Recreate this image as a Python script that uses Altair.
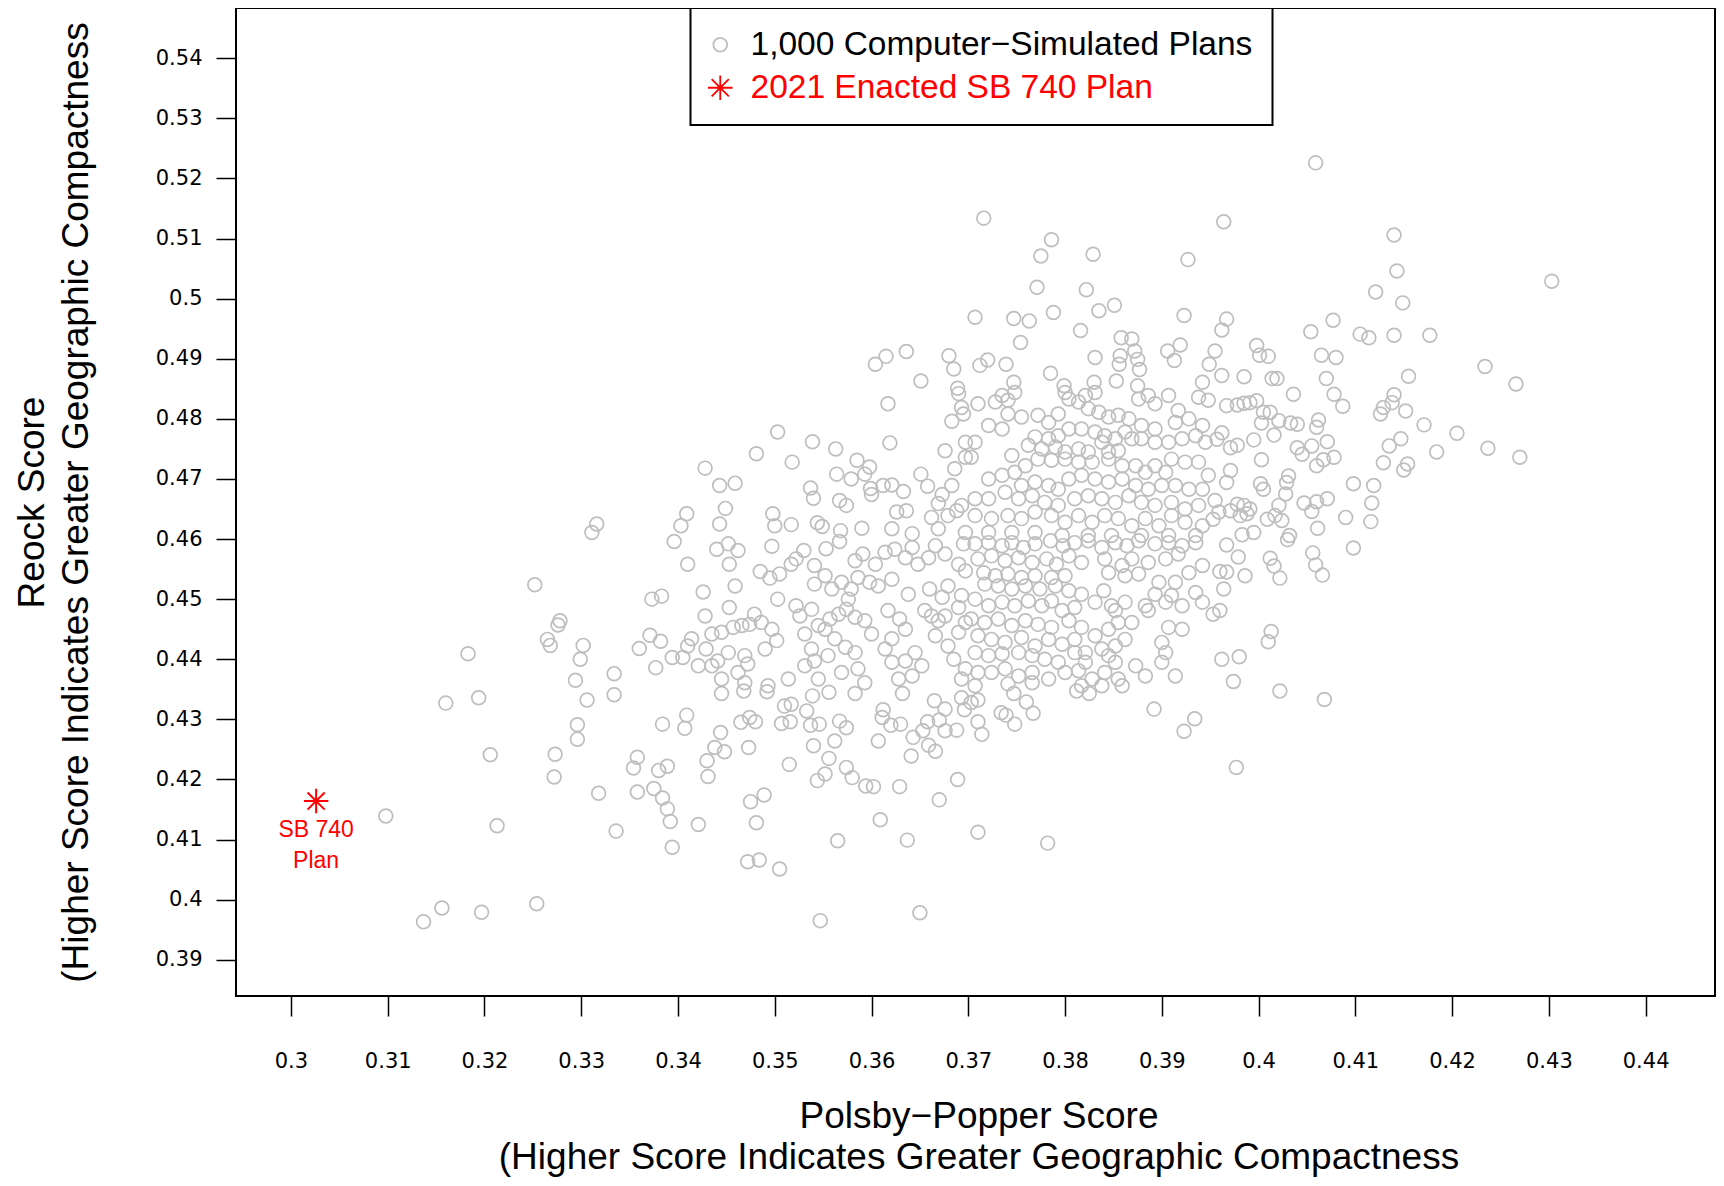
import altair as alt
import pandas as pd

# ---- data (Polsby-Popper, Reock) ----
SERIES = ["1,000 Computer\u2212Simulated Plans", "2021 Enacted SB 740 Plan"]

sims_left = [
    (0.3316,0.4625),(0.3311,0.4611),(0.3396,0.4596),(0.3252,0.4524),(0.3373,0.4500),(0.3383,0.4505),
    (0.3278,0.4464),(0.3276,0.4457),(0.3265,0.4433),(0.3268,0.4423),(0.3183,0.4409),(0.3302,0.4423),
    (0.3299,0.4400),(0.3371,0.4440),(0.3382,0.4430),(0.3360,0.4418),(0.3394,0.4403),(0.3377,0.4386),
    (0.3294,0.4365),(0.3334,0.4376),(0.3334,0.4341),(0.3306,0.4332),(0.3160,0.4327),(0.3194,0.4336),
    (0.3384,0.4292),(0.3296,0.4291),(0.3296,0.4267),(0.3206,0.4241),(0.3273,0.4242),(0.3272,0.4204),
    (0.3358,0.4237),(0.3354,0.4219),(0.3380,0.4215),(0.3389,0.4222),(0.3375,0.4185),(0.3358,0.4179),
    (0.3318,0.4177),(0.3384,0.4169),(0.3389,0.4151),(0.3392,0.4130),(0.3394,0.4087),(0.3336,0.4114),
    (0.3213,0.4123),(0.3098,0.4139),(0.3254,0.3993),(0.3156,0.3986),(0.3137,0.3963),(0.3197,0.3979),
]

sims_low_mid = [
    (0.3409,0.4307),(0.3407,0.4285),(0.3444,0.4278),(0.3465,0.4295),(0.3474,0.4303),(0.3480,0.4296),
    (0.3473,0.4253),(0.3448,0.4246),(0.3438,0.4253),(0.3430,0.4231),(0.3431,0.4205),(0.3510,0.4322),
    (0.3517,0.4325),(0.3507,0.4293),(0.3516,0.4296),(0.3533,0.4314),(0.3537,0.4290),(0.3546,0.4292),
    (0.3539,0.4339),(0.3556,0.4345),(0.3567,0.4297),(0.3574,0.4286),(0.3562,0.4264),(0.3540,0.4256),
    (0.3556,0.4235),(0.3515,0.4225),(0.3552,0.4209),(0.3544,0.4198),(0.3574,0.4220),(0.3580,0.4203),
    (0.3594,0.4189),(0.3602,0.4188),(0.3612,0.4316),(0.3611,0.4303),(0.3620,0.4290),(0.3630,0.4292),
    (0.3607,0.4264),(0.3641,0.4239),(0.3643,0.4270),(0.3653,0.4281),(0.3658,0.4296),(0.3665,0.4331),
    (0.3676,0.4317),(0.3670,0.4299),(0.3676,0.4281),(0.3688,0.4282),(0.3659,0.4257),(0.3666,0.4247),
    (0.3693,0.4336),(0.3696,0.4316),(0.3629,0.4188),(0.3689,0.4200),(0.3670,0.4166),(0.3475,0.4163),
    (0.3489,0.4174),(0.3481,0.4128),(0.3421,0.4125),(0.3472,0.4063),(0.3484,0.4066),(0.3505,0.4051),
    (0.3565,0.4098),(0.3609,0.4133),(0.3637,0.4099),(0.3547,0.3965),(0.3650,0.3978),(0.3583,0.4343),
    (0.3632,0.4343),(0.3445,0.4343),(0.3468,0.4347),(0.3492,0.4346),
]

sims_low_right = [
    (0.3710,0.4332),(0.3703,0.4328),(0.3710,0.4296),(0.3714,0.4275),(0.3734,0.4311),(0.3739,0.4307),
    (0.3748,0.4292),(0.3760,0.4329),(0.3767,0.4310),(0.3747,0.4343),(0.3825,0.4343),(0.3812,0.4347),
    (0.3892,0.4317),(0.3934,0.4301),(0.3923,0.4280),(0.3977,0.4220),(0.4022,0.4347),(0.4068,0.4333),
    (0.3710,0.4112),(0.3782,0.4094),
]

sims_mid_a = [
    (0.3440,0.4583),(0.3462,0.4581),(0.3452,0.4592),(0.3497,0.4588),(0.3410,0.4558),(0.3453,0.4558),
    (0.3485,0.4546),(0.3495,0.4535),(0.3505,0.4542),(0.3517,0.4558),(0.3522,0.4567),(0.3530,0.4581),
    (0.3541,0.4556),(0.3553,0.4584),(0.3567,0.4596),(0.3583,0.4564),(0.3591,0.4575),(0.3604,0.4558),
    (0.3614,0.4578),(0.3624,0.4583),(0.3635,0.4569),(0.3642,0.4586),(0.3648,0.4558),(0.3659,0.4569),
    (0.3666,0.4589),(0.3676,0.4575),(0.3695,0.4592),(0.3690,0.4558),(0.3697,0.4547),
    (0.3426,0.4512),(0.3459,0.4522),(0.3503,0.4500),(0.3453,0.4486),(0.3428,0.4472),(0.3479,0.4475),
    (0.3522,0.4489),(0.3526,0.4472),(0.3538,0.4483),(0.3541,0.4525),(0.3552,0.4539),(0.3559,0.4517),
    (0.3569,0.4528),(0.3579,0.4517),(0.3576,0.4500),(0.3586,0.4536),(0.3598,0.4528),(0.3607,0.4522),
    (0.3621,0.4533),(0.3638,0.4508),(0.3660,0.4517),(0.3673,0.4503),(0.3679,0.4522),(0.3693,0.4506),
    (0.3690,0.4486),
    (0.3414,0.4434),(0.3410,0.4422),(0.3429,0.4417),(0.3435,0.4442),(0.3445,0.4445),(0.3457,0.4453),
    (0.3466,0.4456),(0.3474,0.4458),(0.3486,0.4461),(0.3497,0.4450),(0.3502,0.4431),(0.3490,0.4417),
    (0.3469,0.4406),(0.3452,0.4411),(0.3441,0.4397),(0.3421,0.4389),(0.3405,0.4403),
    (0.3531,0.4442),(0.3538,0.4417),(0.3545,0.4456),(0.3552,0.4450),(0.3557,0.4467),(0.3566,0.4475),
    (0.3574,0.4483),(0.3583,0.4470),(0.3593,0.4464),(0.3600,0.4442),(0.3562,0.4434),(0.3573,0.4420),
    (0.3583,0.4411),(0.3555,0.4406),(0.3541,0.4397),(0.3531,0.4389),(0.3545,0.4367),(0.3569,0.4378),
    (0.3586,0.4384),(0.3593,0.4361),
    (0.3617,0.4481),(0.3629,0.4467),(0.3635,0.4450),(0.3621,0.4434),(0.3614,0.4417),(0.3621,0.4395),
    (0.3635,0.4397),(0.3645,0.4411),(0.3652,0.4389),(0.3642,0.4372),(0.3628,0.4367),(0.3655,0.4481),
    (0.3662,0.4472),(0.3669,0.4464),(0.3676,0.4472),(0.3666,0.4439),(0.3679,0.4422),(0.3690,0.4445),
    (0.3697,0.4461),(0.3685,0.4400),(0.3697,0.4384),(0.3693,0.4367),
    (0.3462,0.4378),(0.3472,0.4392),(0.3445,0.4367),(0.3435,0.4389),(0.3514,0.4367),(0.3493,0.4356),
    (0.3469,0.4361),
]

sims_mid_b = [
    (0.3617,0.4825),(0.3690,0.4842),(0.3693,0.4819),(0.3695,0.4808),(0.3683,0.4796),(0.3503,0.4778),
    (0.3539,0.4762),(0.3563,0.4750),(0.3619,0.4760),(0.3481,0.4742),(0.3518,0.4728),(0.3585,0.4731),
    (0.3598,0.4720),(0.3593,0.4708),(0.3579,0.4700),(0.3564,0.4708),(0.3428,0.4718),(0.3443,0.4689),
    (0.3459,0.4693),(0.3537,0.4685),(0.3540,0.4668),(0.3567,0.4664),(0.3574,0.4656),(0.3599,0.4684),
    (0.3600,0.4674),(0.3612,0.4689),(0.3621,0.4690),(0.3633,0.4679),(0.3626,0.4645),(0.3636,0.4647),
    (0.3651,0.4708),(0.3658,0.4688),(0.3673,0.4674),(0.3669,0.4659),(0.3676,0.4747),(0.3686,0.4717),
    (0.3683,0.4689),(0.3697,0.4761),(0.3697,0.4736),(0.3693,0.4656),(0.3688,0.4647),(0.3679,0.4639),
    (0.3662,0.4636),(0.3669,0.4617),(0.3449,0.4651),(0.3443,0.4625),(0.3409,0.4642),(0.3403,0.4622),
    (0.3498,0.4642),(0.3500,0.4622),(0.3517,0.4624),(0.3544,0.4627),(0.3549,0.4621),(0.3568,0.4614),
    (0.3590,0.4618),(0.3621,0.4617),(0.3642,0.4609),(0.3697,0.4611),
]

sims_core_low = [
    (0.3707,0.4592),(0.3721,0.4594),(0.3735,0.4589),(0.3745,0.4594),(0.3757,0.4586),(0.3769,0.4592),
    (0.3785,0.4597),(0.3798,0.4589),(0.3810,0.4594),(0.3824,0.4597),(0.3838,0.4586),(0.3852,0.4594),
    (0.3864,0.4589),(0.3876,0.4597),(0.3893,0.4592),(0.3907,0.4594),(0.3921,0.4589),(0.3935,0.4594),
    (0.3710,0.4567),(0.3724,0.4572),(0.3738,0.4564),(0.3752,0.4569),(0.3766,0.4561),(0.3781,0.4567),
    (0.3791,0.4558),(0.3804,0.4572),(0.3817,0.4561),(0.3841,0.4567),(0.3859,0.4556),(0.3869,0.4567),
    (0.3886,0.4561),(0.3904,0.4567),(0.3917,0.4575),(0.3942,0.4556),(0.3928,0.4544),(0.3845,0.4544),
    (0.3862,0.4539),(0.3876,0.4542),
    (0.3716,0.4544),(0.3728,0.4539),(0.3741,0.4542),(0.3755,0.4536),(0.3769,0.4539),(0.3786,0.4536),
    (0.3800,0.4539),(0.3717,0.4525),(0.3731,0.4522),(0.3745,0.4517),(0.3759,0.4522),(0.3774,0.4517),
    (0.3790,0.4522),(0.3804,0.4514),(0.3817,0.4508),(0.3840,0.4514),(0.3831,0.4495),(0.3848,0.4489),
    (0.3862,0.4495),(0.3883,0.4489),(0.3893,0.4508),(0.3904,0.4495),(0.3910,0.4506),(0.3921,0.4489),
    (0.3935,0.4511),(0.3942,0.4495),(0.3897,0.4528),(0.3914,0.4528),(0.3886,0.4481),
    (0.3707,0.4500),(0.3721,0.4489),(0.3735,0.4495),(0.3748,0.4489),(0.3762,0.4497),(0.3776,0.4489),
    (0.3786,0.4497),(0.3797,0.4481),(0.3810,0.4486),(0.3703,0.4467),(0.3717,0.4461),(0.3731,0.4467),
    (0.3745,0.4456),(0.3759,0.4464),(0.3772,0.4458),(0.3786,0.4453),(0.3804,0.4464),(0.3817,0.4453),
    (0.3831,0.4439),(0.3845,0.4450),(0.3855,0.4461),(0.3869,0.4461),(0.3852,0.4481),(0.3907,0.4453),
    (0.3921,0.4450),(0.3900,0.4428),(0.3904,0.4411),
    (0.3710,0.4439),(0.3724,0.4433),(0.3738,0.4428),(0.3755,0.4436),(0.3769,0.4422),(0.3783,0.4433),
    (0.3797,0.4425),(0.3810,0.4433),(0.3821,0.4411),(0.3838,0.4417),(0.3852,0.4422),(0.3862,0.4433),
    (0.3707,0.4411),(0.3721,0.4406),(0.3735,0.4409),(0.3752,0.4411),(0.3766,0.4406),(0.3779,0.4400),
    (0.3793,0.4395),(0.3810,0.4411),(0.3821,0.4395),(0.3845,0.4406),(0.3852,0.4395),
    (0.3710,0.4378),(0.3724,0.4378),(0.3738,0.4384),(0.3752,0.4372),(0.3766,0.4378),(0.3783,0.4367),
    (0.3800,0.4378),(0.3814,0.4381),(0.3828,0.4367),(0.3841,0.4378),(0.3855,0.4367),(0.3873,0.4389),
    (0.3883,0.4372),(0.3900,0.4395),(0.3914,0.4372),(0.3707,0.4356),(0.3741,0.4359),(0.3766,0.4361),
    (0.3817,0.4356),(0.3838,0.4356),(0.3859,0.4356),
]

sims_core_high = [
    (0.3710,0.4825),(0.3728,0.4828),(0.3741,0.4831),(0.3735,0.4839),(0.3748,0.4844),(0.3721,0.4789),
    (0.3735,0.4783),(0.3741,0.4808),(0.3755,0.4803),(0.3707,0.4761),(0.3703,0.4736),(0.3772,0.4806),
    (0.3783,0.4794),(0.3793,0.4808),(0.3804,0.4833),(0.3814,0.4828),(0.3821,0.4839),(0.3831,0.4844),
    (0.3800,0.4844),(0.3824,0.4817),(0.3835,0.4811),(0.3845,0.4803),(0.3855,0.4806),(0.3866,0.4800),
    (0.3876,0.4833),(0.3886,0.4839),(0.3893,0.4825),(0.3907,0.4839),(0.3938,0.4836),(0.3948,0.4831),
    (0.3917,0.4814),(0.3928,0.4800),(0.3942,0.4789),(0.3914,0.4794),(0.3893,0.4783),(0.3879,0.4789),
    (0.3862,0.4778),(0.3852,0.4767),(0.3841,0.4772),(0.3831,0.4778),(0.3817,0.4783),(0.3804,0.4783),
    (0.3793,0.4772),(0.3783,0.4767),(0.3769,0.4770),(0.3762,0.4756),(0.3776,0.4750),(0.3790,0.4753),
    (0.3800,0.4745),(0.3814,0.4750),(0.3824,0.4745),(0.3838,0.4761),(0.3845,0.4745),(0.3855,0.4747),
    (0.3869,0.4767),(0.3879,0.4767),(0.3893,0.4761),(0.3907,0.4761),(0.3921,0.4767),(0.3935,0.4772),
    (0.3945,0.4761),(0.3910,0.4733),(0.3924,0.4728),(0.3938,0.4728),(0.3948,0.4706),(0.3873,0.4722),
    (0.3883,0.4711),(0.3893,0.4722),(0.3904,0.4711),(0.3859,0.4722),(0.3845,0.4733),(0.3828,0.4728),
    (0.3814,0.4728),(0.3800,0.4733),(0.3786,0.4731),(0.3772,0.4733),(0.3759,0.4722),(0.3745,0.4739),
    (0.3748,0.4711),(0.3735,0.4706),(0.3721,0.4700),(0.3755,0.4689),(0.3769,0.4695),(0.3783,0.4689),
    (0.3793,0.4683),(0.3804,0.4700),(0.3817,0.4706),(0.3831,0.4700),(0.3845,0.4695),(0.3859,0.4700),
    (0.3873,0.4689),(0.3886,0.4683),(0.3900,0.4689),(0.3914,0.4689),(0.3928,0.4683),(0.3942,0.4683),
    (0.3707,0.4667),(0.3721,0.4667),(0.3738,0.4678),(0.3752,0.4667),(0.3766,0.4672),(0.3779,0.4661),
    (0.3793,0.4656),(0.3810,0.4667),(0.3824,0.4672),(0.3838,0.4667),(0.3852,0.4661),(0.3866,0.4672),
    (0.3879,0.4661),(0.3893,0.4656),(0.3910,0.4661),(0.3924,0.4650),(0.3938,0.4656),(0.3707,0.4639),
    (0.3724,0.4634),(0.3741,0.4639),(0.3755,0.4634),(0.3769,0.4645),(0.3786,0.4639),(0.3800,0.4628),
    (0.3814,0.4639),(0.3828,0.4628),(0.3841,0.4639),(0.3855,0.4634),(0.3869,0.4622),(0.3883,0.4634),
    (0.3897,0.4622),(0.3910,0.4639),(0.3924,0.4628),(0.3942,0.4622),(0.3721,0.4611),(0.3745,0.4611),
    (0.3769,0.4611),(0.3797,0.4606),(0.3824,0.4606),(0.3848,0.4606),(0.3879,0.4606),(0.3907,0.4606),
    (0.3935,0.4606),
]

sims_right_low = [
    (0.3967,0.4694),(0.4002,0.4692),(0.4005,0.4683),(0.4029,0.4694),(0.4098,0.4692),(0.4119,0.4689),
    (0.4117,0.4660),(0.4116,0.4629),(0.4090,0.4636),(0.4098,0.4585),(0.4071,0.4667),(0.4060,0.4662),
    (0.4055,0.4646),(0.4047,0.4660),(0.4061,0.4618),(0.4028,0.4675),(0.4021,0.4656),(0.4017,0.4639),
    (0.4024,0.4631),(0.4009,0.4633),(0.3991,0.4650),(0.3985,0.4656),(0.3978,0.4658),(0.3971,0.4647),
    (0.3959,0.4645),(0.3953,0.4633),(0.3955,0.4664),(0.3981,0.4639),(0.3988,0.4642),(0.3995,0.4611),
    (0.3983,0.4607),(0.4032,0.4606),(0.4030,0.4599),(0.3967,0.4590),(0.3979,0.4570),(0.4012,0.4568),
    (0.4016,0.4555),(0.4022,0.4535),(0.4056,0.4577),(0.4059,0.4557),(0.4066,0.4540),(0.3986,0.4539),
    (0.3967,0.4545),(0.3960,0.4546),(0.3964,0.4517),(0.3960,0.4481),(0.3953,0.4475),(0.4013,0.4446),
    (0.4010,0.4429),(0.3962,0.4400),(0.3980,0.4404),(0.3974,0.4363),
]

sims_right_high = [
    (0.4059,0.5226),(0.3964,0.5128),(0.4140,0.5106),(0.4143,0.5046),(0.4121,0.5011),(0.4149,0.4993),
    (0.4303,0.5029),(0.3967,0.4966),(0.3962,0.4948),(0.4054,0.4945),(0.4077,0.4964),(0.4105,0.4941),
    (0.4114,0.4935),(0.4140,0.4939),(0.4177,0.4939),(0.3955,0.4913),(0.3998,0.4922),(0.4001,0.4906),
    (0.4010,0.4904),(0.4065,0.4906),(0.4080,0.4902),(0.3962,0.4872),(0.3985,0.4870),(0.4014,0.4867),
    (0.4019,0.4867),(0.4070,0.4867),(0.4155,0.4871),(0.4234,0.4887),(0.4266,0.4858),(0.4036,0.4841),
    (0.4078,0.4841),(0.4087,0.4821),(0.3967,0.4822),(0.3978,0.4823),(0.3985,0.4826),(0.3991,0.4827),
    (0.3998,0.4830),(0.4005,0.4811),(0.4012,0.4811),(0.4021,0.4797),(0.4003,0.4793),(0.4033,0.4793),
    (0.4040,0.4791),(0.4062,0.4798),(0.4060,0.4786),(0.3995,0.4765),(0.4016,0.4773),(0.3962,0.4777),
    (0.3957,0.4766),(0.3971,0.4752),(0.3978,0.4756),(0.4040,0.4752),(0.4045,0.4741),(0.4055,0.4755),
    (0.4071,0.4762),(0.4078,0.4736),(0.4067,0.4732),(0.4003,0.4732),(0.4060,0.4722),(0.3971,0.4714),
    (0.4126,0.4808),(0.4129,0.4819),(0.4140,0.4840),(0.4138,0.4827),(0.4152,0.4813),(0.4171,0.4790),
    (0.4135,0.4755),(0.4147,0.4767),(0.4129,0.4727),(0.4154,0.4725),(0.4150,0.4715),(0.4184,0.4745),
    (0.4205,0.4776),(0.4237,0.4751),(0.4270,0.4736),(0.4031,0.4705),
]

sims_top = [
    (0.3716,0.5134),(0.3786,0.5098),(0.3775,0.5071),(0.3829,0.5074),(0.3927,0.5065),(0.3771,0.5019),
    (0.3822,0.5015),(0.3707,0.4969),(0.3747,0.4967),(0.3763,0.4963),(0.3788,0.4977),(0.3835,0.4980),
    (0.3851,0.4989),(0.3923,0.4972),(0.3816,0.4947),(0.3754,0.4927),(0.3858,0.4935),(0.3869,0.4933),
    (0.3615,0.4904),(0.3604,0.4891),(0.3636,0.4912),(0.3680,0.4905),(0.3685,0.4883),(0.3712,0.4889),
    (0.3720,0.4898),(0.3739,0.4891),(0.3831,0.4902),(0.3856,0.4891),(0.3857,0.4905),(0.3872,0.4913),
    (0.3875,0.4899),(0.3877,0.4882),(0.3906,0.4913),(0.3919,0.4923),(0.3913,0.4897),(0.3785,0.4876),
    (0.3651,0.4863),(0.3747,0.4861),(0.3799,0.4855),(0.3830,0.4861),(0.3853,0.4863),(0.3875,0.4855),
    (0.3689,0.4851),(0.3942,0.4861),(0.3949,0.4891),
]

SB740_PP = 0.3026
SB740_REOCK = 0.4164
SB740_LABEL = "SB 740\nPlan"

X_TICKS = [0.30, 0.31, 0.32, 0.33, 0.34, 0.35, 0.36, 0.37, 0.38, 0.39, 0.40, 0.41, 0.42, 0.43, 0.44]
Y_TICKS = [0.39, 0.40, 0.41, 0.42, 0.43, 0.44, 0.45, 0.46, 0.47, 0.48, 0.49, 0.50, 0.51, 0.52, 0.53, 0.54]
X_DOMAIN = [0.29432, 0.44717]
Y_DOMAIN = [0.38396, 0.54837]

X_TITLE = ["Polsby\u2212Popper Score", "(Higher Score Indicates Greater Geographic Compactness"]
Y_TITLE = ["Reock Score", "(Higher Score Indicates Greater Geographic Compactness"]

# ---- build tables ----
all_sims = (sims_left + sims_low_mid + sims_low_right + sims_mid_a + sims_mid_b
            + sims_core_low + sims_core_high + sims_right_low + sims_right_high + sims_top)
sims_df = pd.DataFrame(all_sims, columns=["pp", "reock"])
sims_df["series"] = SERIES[0]
sb_df = pd.DataFrame({"pp": [SB740_PP], "reock": [SB740_REOCK],
                      "series": [SERIES[1]], "label": [SB740_LABEL]})

STAR = "M0,-1L0,1M-1,0L1,0M-0.7,-0.7L0.7,0.7M-0.7,0.7L0.7,-0.7"
FONT = "Liberation Sans"

x_enc = alt.X("pp:Q", scale=alt.Scale(domain=X_DOMAIN, nice=False, zero=False),
              axis=alt.Axis(values=X_TICKS, format=".2~f", title=X_TITLE,
                            labelPadding=34, titleX=742.5, titleY=102, titleBaseline="top",
                            titleLineHeight=41, titleAngle=0, titleAlign="center"))
y_enc = alt.Y("reock:Q", scale=alt.Scale(domain=Y_DOMAIN, nice=False, zero=False),
              axis=alt.Axis(values=Y_TICKS, format=".2~f", title=Y_TITLE,
                            labelPadding=14, titleX=-222, titleBaseline="top",
                            titleLineHeight=44, titleAngle=270))

legend = alt.Legend(title=None, orient="none", legendX=454.5, legendY=0,
                    direction="vertical", labelFont=FONT, labelFontSize=33.5,
                    labelLimit=1000, labelOffset=13.5, symbolOffset=-7, padding=20, rowPadding=8,
                    strokeColor="black", fillColor="white", symbolStrokeWidth=1.8,
                    labelColor=alt.ExprRef(expr="datum.value === '" + SERIES[1] + "' ? '#ff0000' : '#000000'"))

color_enc = alt.Color("series:N", scale=alt.Scale(domain=SERIES, range=["#bebebe", "#ff0000"]), legend=legend)
shape_enc = alt.Shape("series:N", scale=alt.Scale(domain=SERIES, range=["circle", STAR]), legend=legend)
size_enc = alt.Size("series:N", scale=alt.Scale(domain=SERIES, range=[190, 600]), legend=legend)

sims_layer = alt.Chart(sims_df).mark_point(filled=False, strokeWidth=1.7, opacity=1).encode(
    x=x_enc, y=y_enc, color=color_enc, shape=shape_enc, size=size_enc)
star_layer = alt.Chart(sb_df).mark_point(filled=False, strokeWidth=2, opacity=1).encode(
    x=x_enc, y=y_enc, color=color_enc, shape=shape_enc, size=size_enc)
label_layer = alt.Chart(sb_df).mark_text(color="#ff0000", font=FONT, fontSize=23, align="center",
                                         baseline="top", dy=18, lineBreak="\n", lineHeight=31).encode(
    x=x_enc, y=y_enc, text="label:N")

chart = alt.layer(sims_layer, star_layer, label_layer).properties(
    width=1479, height=988,
    autosize=alt.AutoSizeParams(type="none"),
    padding={"left": 228, "top": 0, "right": 1, "bottom": 182},
).configure_view(stroke="black", strokeWidth=2).configure_axis(
    domain=False, grid=False, tickColor="black", tickWidth=1.5, tickSize=20,
    labelColor="black", labelFont="DejaVu Sans", labelFontSize=21, labelOverlap=False,
    titleFont=FONT, titleFontSize=37, titleFontWeight="normal", titleColor="black",
).configure_legend(strokeWidth=2)

chart.save("out.html", embed_options={"renderer": "svg", "actions": False})
